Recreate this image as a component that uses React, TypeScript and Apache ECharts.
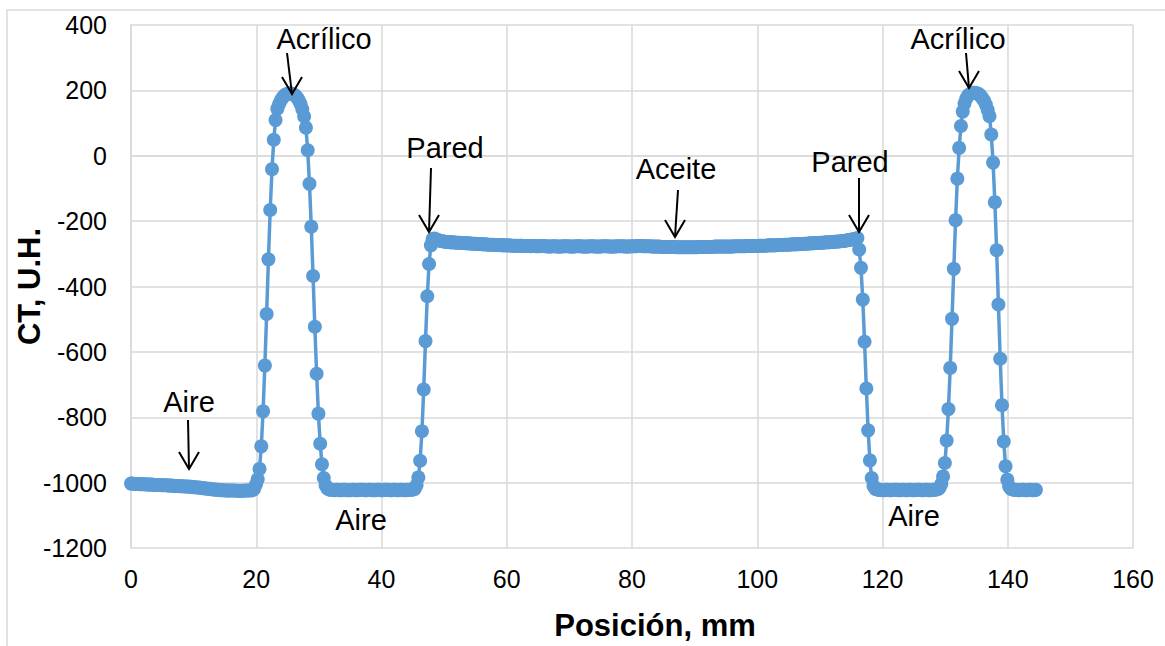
import React, { useEffect, useRef } from "react";
import * as echarts from "echarts";

// Sampling step of the CT profile along the scan line (mm per sample)
const STEP_MM = 0.285;

// CT numbers (U.H.) along the profile, region by region
const airLeft = [
  -1003, -1003, -1004, -1004, -1004, -1005, -1005, -1005, -1005, -1006,
  -1006, -1006, -1006, -1007, -1007, -1007, -1007, -1008, -1008, -1008,
  -1008, -1009, -1009, -1009, -1010, -1010, -1010, -1011, -1011, -1011,
  -1012, -1012, -1012, -1013, -1013, -1014, -1014, -1015, -1015, -1016,
  -1017, -1017, -1018, -1019, -1019, -1020, -1021, -1021, -1022, -1022,
  -1023, -1023, -1023, -1024, -1024, -1024, -1024, -1024, -1024, -1025,
  -1025, -1025, -1025, -1025, -1024, -1024, -1024, -1024, -1023, -1019,
  -1006,
];
const acrylicLeft = [
  -990, -958, -889, -782, -642, -484, -317, -166, -41, 49,
  109, 144, 158, 170, 178, 184, 188, 190, 191, 190,
  188, 184, 178, 170, 158, 142, 120, 86, 17, -86,
  -217, -368, -523, -667, -789, -881, -944, -986,
];
const airMiddle = [
  -1008, -1018, -1021, -1022, -1022, -1023, -1022, -1022, -1023, -1023,
  -1022, -1022, -1023, -1023, -1023, -1022, -1022, -1023, -1023, -1022,
  -1022, -1022, -1023, -1023, -1022, -1022, -1023, -1023, -1023, -1022,
  -1022, -1023, -1023, -1022, -1022, -1022, -1023, -1023, -1022, -1022,
  -1023, -1023, -1022, -1022, -1023, -1023, -1022, -1022, -1022, -1021,
  -1019, -1008,
];
const wallLeft = [-984, -933, -843, -715, -567, -430, -331, -274];
const oil = [
  -255, -253, -256, -258, -260, -261, -262,
  -263, -264, -264, -265, -265,
  -265, -266, -266, -266, -267, -267, -267, -268, -268, -268,
  -269, -269, -269, -270, -270, -270, -271, -271, -271, -272,
  -272, -272, -272, -273, -273, -273, -273, -274, -274, -274,
  -274, -274, -275, -275, -275, -275, -276, -275, -275, -276,
  -276, -276, -276, -277, -276, -276, -277, -277, -277, -276,
  -276, -277, -277, -278, -278, -277, -277, -277, -278, -278,
  -278, -277, -277, -277, -277, -278, -278, -278, -277, -277,
  -277, -277, -278, -278, -278, -278, -277, -277, -277, -278,
  -278, -278, -278, -277, -277, -277, -277, -278, -278, -278,
  -278, -277, -277, -277, -277, -277, -278, -278, -278, -277,
  -277, -277, -277, -276, -276, -276, -277, -277, -277, -277,
  -277, -278, -278, -278, -278, -278, -279, -279, -279, -279,
  -279, -279, -279, -279, -279, -280, -280, -280, -280, -280,
  -280, -280, -280, -280, -280, -280, -280, -279, -279, -279,
  -279, -279, -279, -279, -279, -279, -278, -278, -278, -278,
  -278, -278, -278, -278, -278, -278, -278, -277, -277, -277,
  -277, -277, -277, -277, -276, -276, -276, -276, -276, -276,
  -276, -275, -275, -275, -275, -275, -274, -274, -274, -274,
  -274, -273, -273, -273, -273, -272, -272, -272, -272, -271,
  -271, -271, -271, -270, -270, -270, -269, -269, -269, -268,
  -268, -268, -267, -267, -267, -266, -266, -266, -265, -265,
  -265, -264, -264, -263, -263, -262, -262, -261, -261, -260,
  -259, -258, -257, -256, -255, -254, -252,
];
const wallRight = [-287, -343, -440, -569, -712, -840, -932, -986];
const airRight = [
  -1010, -1019, -1021, -1022, -1022, -1023, -1023, -1022, -1022, -1023,
  -1023, -1022, -1022, -1022, -1023, -1023, -1022, -1022, -1023, -1023,
  -1022, -1022, -1023, -1023, -1022, -1022, -1022, -1023, -1023, -1022,
  -1022, -1023, -1023, -1022, -1022, -1021, -1020, -1016, -1004,
];
const acrylicRight = [
  -981, -940, -871, -775, -649, -499, -346, -197, -70, 24,
  91, 135, 160, 175, 184, 189, 192, 193, 193, 191,
  188, 183, 176, 168, 156, 140, 121, 65, -21, -142,
  -289, -455, -621, -763, -874, -950, -991,
];
const airEnd = [
  -1012, -1019, -1021, -1022, -1022, -1023, -1023, -1022, -1022, -1023,
  -1023, -1022, -1022, -1023, -1023, -1022,
];

const ctValues = [
  ...airLeft,
  ...acrylicLeft,
  ...airMiddle,
  ...wallLeft,
  ...oil,
  ...wallRight,
  ...airRight,
  ...acrylicRight,
  ...airEnd,
];

// Axis ranges
const X_MIN = 0;
const X_MAX = 160;
const X_INTERVAL = 20;
const Y_MIN = -1200;
const Y_MAX = 400;
const Y_INTERVAL = 200;

// Region labels (text, label centre, arrow start and tip in pixels)
type Note = { text: string; x: number; y: number; arrow?: [number, number, number, number] };
const notes: Note[] = [
  { text: "Acrílico", x: 324, y: 39, arrow: [287, 53, 292, 94] },
  { text: "Acrílico", x: 958, y: 39, arrow: [966, 53, 969, 88] },
  { text: "Pared", x: 445, y: 148, arrow: [431, 168, 429, 232] },
  { text: "Aceite", x: 676, y: 169, arrow: [678, 190, 675, 237] },
  { text: "Pared", x: 850, y: 162, arrow: [859, 178, 859, 232] },
  { text: "Aire", x: 189, y: 402, arrow: [188, 420, 189, 469] },
  { text: "Aire", x: 361, y: 520 },
  { text: "Aire", x: 914, y: 516 },
];

const BLUE = "#5B9BD5";
const GRID = "#d9d9d9";
const FONT = "Liberation Sans";

export default function App() {
  const ref = useRef<HTMLDivElement>(null);

  useEffect(() => {
    if (!ref.current) return;
    const chart = echarts.init(ref.current, undefined, { renderer: "svg" });

    const graphics: any[] = [
      {
        type: "rect",
        silent: true,
        z: -10,
        shape: { x: 7, y: 10, width: 1400, height: 900 },
        style: { fill: "none", stroke: GRID, lineWidth: 1.5 },
      },
    ];
    notes.forEach((n) => {
      graphics.push({
        type: "text",
        x: n.x,
        y: n.y,
        z: 100,
        style: {
          text: n.text,
          fontSize: 29,
          fontFamily: FONT,
          fill: "#000",
          align: "center",
          verticalAlign: "middle",
        },
      });
      if (n.arrow) {
        const [x1, y1, x2, y2] = n.arrow;
        graphics.push({
          type: "line",
          z: 100,
          shape: { x1, y1, x2, y2 },
          style: { stroke: "#000", lineWidth: 2 },
        });
        graphics.push({
          type: "polyline",
          z: 100,
          shape: {
            points: [
              [x2 - 10, y2 - 17],
              [x2, y2],
              [x2 + 10, y2 - 17],
            ],
          },
          style: { stroke: "#000", lineWidth: 2, fill: "none" },
        });
      }
    });

    chart.setOption({
      animation: false,
      backgroundColor: "#fff",
      grid: {
        left: 131,
        right: 32,
        top: 25,
        bottom: 98,
        containLabel: false,
        outerBoundsMode: "none",
      },
      xAxis: {
        type: "value",
        min: X_MIN,
        max: X_MAX,
        interval: X_INTERVAL,
        name: "Posición, mm",
        nameLocation: "middle",
        nameGap: 62,
        nameTextStyle: {
          fontFamily: FONT,
          fontSize: 31,
          fontWeight: "bold",
          color: "#000",
          padding: [0, 0, 0, 46],
        },
        axisLine: { show: true, lineStyle: { color: GRID, width: 1.5 } },
        axisTick: { show: false },
        axisLabel: { fontFamily: FONT, fontSize: 25, color: "#000", margin: 18 },
        splitLine: { show: true, lineStyle: { color: GRID, width: 1.5 } },
      },
      yAxis: {
        type: "value",
        min: Y_MIN,
        max: Y_MAX,
        interval: Y_INTERVAL,
        name: "CT, U.H.",
        nameLocation: "middle",
        nameGap: 86,
        nameMoveOverlap: false,
        nameRotate: 90,
        nameTextStyle: {
          fontFamily: FONT,
          fontSize: 31,
          fontWeight: "bold",
          color: "#000",
        },
        axisLine: { show: true, lineStyle: { color: GRID, width: 1.5 } },
        axisTick: { show: false },
        axisLabel: {
          fontFamily: FONT,
          fontSize: 25,
          color: "#000",
          margin: 24,
          formatter: (v: number) => String(v),
        },
        splitLine: { show: true, lineStyle: { color: GRID, width: 1.5 } },
      },
      series: [
        {
          type: "line",
          data: ctValues.map((v, i) => [i * STEP_MM, v]),
          symbol: "circle",
          symbolSize: 14,
          showAllSymbol: true,
          lineStyle: { color: BLUE, width: 3.5 },
          itemStyle: { color: BLUE },
          emphasis: { disabled: true },
        },
      ],
      graphic: graphics,
    });

    return () => chart.dispose();
  }, []);

  return (
    <div
      ref={ref}
      style={{ position: "fixed", left: 0, top: 0, width: 1165, height: 646, background: "#fff" }}
    />
  );
}
